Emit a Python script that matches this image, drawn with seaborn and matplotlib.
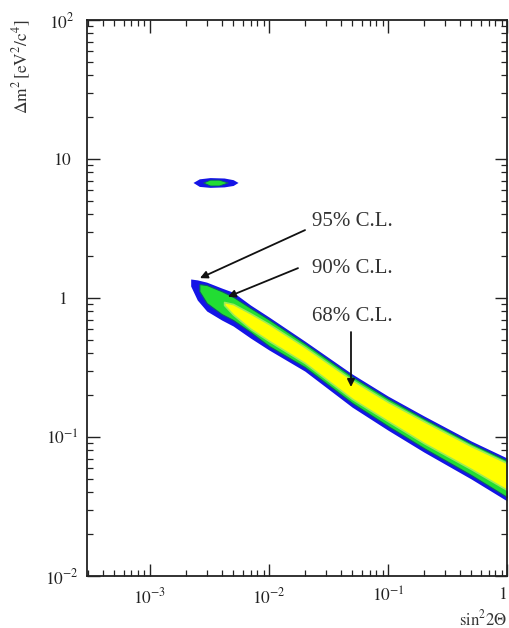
import numpy as np
import matplotlib
matplotlib.use("Agg")
import matplotlib.pyplot as plt
import seaborn as sns
from matplotlib.ticker import FixedLocator, FixedFormatter, LogLocator, NullFormatter

# ---------------- data ----------------
# main allowed band: sin^2(2theta) samples with lower / upper delta m^2 bounds
band_x95 = [2.2e-3, 2.5e-3, 3e-3, 4e-3, 5e-3, 7e-3, 1e-2, 2e-2, 5e-2, 0.1, 0.2, 0.5, 1.0]
band_hi95 = [1.37, 1.35, 1.30, 1.18, 1.10, 0.89, 0.73, 0.49, 0.284, 0.197, 0.142, 0.0936, 0.0706]
band_lo95 = [1.22, 0.967, 0.806, 0.695, 0.629, 0.515, 0.423, 0.298, 0.164, 0.112, 0.078, 0.0499, 0.0347]

band_x90 = [2.6e-3, 3e-3, 4e-3, 5e-3, 7e-3, 1e-2, 2e-2, 5e-2, 0.1, 0.2, 0.5, 1.0]
band_hi90 = [1.26, 1.24, 1.12, 1.02, 0.848, 0.700, 0.471, 0.272, 0.189, 0.136, 0.0898, 0.0678]
band_lo90 = [1.12, 0.920, 0.767, 0.695, 0.569, 0.452, 0.319, 0.176, 0.120, 0.0833, 0.0533, 0.0370]

band_x68 = [4.2e-3, 5e-3, 7e-3, 1e-2, 2e-2, 5e-2, 0.1, 0.2, 0.5, 1.0]
band_hi68 = [0.936, 0.905, 0.775, 0.650, 0.444, 0.257, 0.179, 0.130, 0.0861, 0.0650]
band_lo68 = [0.891, 0.760, 0.600, 0.491, 0.341, 0.188, 0.130, 0.0905, 0.0588, 0.0416]

# small island near delta m^2 ~ 7 eV^2
island_x95 = [2.3e-3, 2.6e-3, 3.2e-3, 4.2e-3, 5.0e-3, 5.5e-3]
island_hi95 = [6.78, 7.20, 7.35, 7.30, 7.10, 6.78]
island_lo95 = [6.78, 6.35, 6.25, 6.30, 6.45, 6.78]
island_x90 = [2.8e-3, 3.2e-3, 3.8e-3, 4.5e-3]
island_hi90 = [6.78, 7.10, 7.10, 6.78]
island_lo90 = [6.78, 6.45, 6.45, 6.78]

# annotations
cl_labels = ["95% C.L.", "90% C.L.", "68% C.L."]
label_x = [0.023, 0.023, 0.023]
label_y = [3.58, 1.64, 0.742]
arrow_tail_x = [0.0201, 0.01754, 0.0489]
arrow_tail_y = [3.08, 1.64, 0.569]
arrow_head_x = [2.63e-3, 4.52e-3, 0.0489]
arrow_head_y = [1.39, 1.02, 0.229]

xtick_vals = [1e-3, 1e-2, 1e-1, 1.0]
xtick_labels = [r"$10^{-3}$", r"$10^{-2}$", r"$10^{-1}$", r"$1$"]
ytick_vals = [1e-2, 1e-1, 1.0, 10.0, 100.0]
ytick_labels = [r"$10^{-2}$", r"$10^{-1}$", r"$1$", r"$10$", r"$10^{2}$"]

# ---------------- style ----------------
sns.set_theme(style="ticks")
plt.rcParams["font.family"] = ["Liberation Serif", "DejaVu Serif"]
plt.rcParams["mathtext.fontset"] = "stix"

col95 = "#1414e6"
col90 = "#22dd33"
col68 = "#ffff00"
edge = "#0b5c6e"

fig = plt.figure(figsize=(5.09, 6.28), dpi=100)
ax = fig.add_axes([87 / 509, 1 - 576 / 628, 420 / 509, 556 / 628])
ax.set_xscale("log")
ax.set_yscale("log")
ax.set_xlim(2.96e-4, 1.0)
ax.set_ylim(1e-2, 1e2)

# band
ax.fill_between(band_x95, band_lo95, band_hi95, color=col95, lw=0)
ax.fill_between(band_x90, band_lo90, band_hi90, facecolor=col90, edgecolor=edge, lw=0.8)
ax.fill_between(band_x68, band_lo68, band_hi68, facecolor=col68, edgecolor="#9cec55", lw=1.2)
# island
ax.fill_between(island_x95, island_lo95, island_hi95, color=col95, lw=0)
ax.fill_between(island_x90, island_lo90, island_hi90, facecolor=col90, edgecolor=edge, lw=0.6)

# annotations
for txt, lx, ly, tx, ty, hx, hy in zip(cl_labels, label_x, label_y,
                                       arrow_tail_x, arrow_tail_y,
                                       arrow_head_x, arrow_head_y):
    ax.text(lx, ly, txt, ha="left", va="center", fontsize=15, color="#333333")
    ax.annotate("", xy=(hx, hy), xytext=(tx, ty),
                arrowprops=dict(arrowstyle="-|>", color="#111111", lw=1.3,
                                mutation_scale=11, shrinkA=0, shrinkB=0))

# axes / ticks
ax.xaxis.set_major_locator(FixedLocator(xtick_vals))
ax.xaxis.set_major_formatter(FixedFormatter(xtick_labels))
ax.yaxis.set_major_locator(FixedLocator(ytick_vals))
ax.yaxis.set_major_formatter(FixedFormatter(ytick_labels))
ax.xaxis.set_minor_locator(LogLocator(base=10, subs=np.arange(2, 10), numticks=20))
ax.yaxis.set_minor_locator(LogLocator(base=10, subs=np.arange(2, 10), numticks=20))
ax.xaxis.set_minor_formatter(NullFormatter())
ax.yaxis.set_minor_formatter(NullFormatter())

ax.tick_params(which="both", direction="in", top=True, right=True, colors="#222222")
ax.tick_params(which="major", length=9, width=1.0, labelsize=12.5)
ax.tick_params(which="minor", length=4.5, width=0.9)
ax.tick_params(axis="x", which="major", pad=8)
ax.tick_params(axis="y", which="major", pad=18)
for lab in ax.get_yticklabels():
    lab.set_horizontalalignment("center")
xlabs = ax.get_xticklabels()
xlabs[-1].set_horizontalalignment("right")
for sp in ax.spines.values():
    sp.set_linewidth(1.3)
    sp.set_color("#222222")

ax.set_ylabel(r"$\Delta\mathrm{m}^{2}\,[\mathrm{eV}^{2}/\mathrm{c}^{4}]$", fontsize=12.5,
              color="#333333", loc="top")
ax.yaxis.set_label_coords(-0.128, 1.0)
ax.set_xlabel(r"$\mathrm{sin}^{2}2\Theta$", fontsize=12, color="#333333", loc="right")
ax.xaxis.set_label_coords(1.0, -0.06)

ax.grid(False)
fig.savefig("out.png", dpi=100, facecolor="white")
